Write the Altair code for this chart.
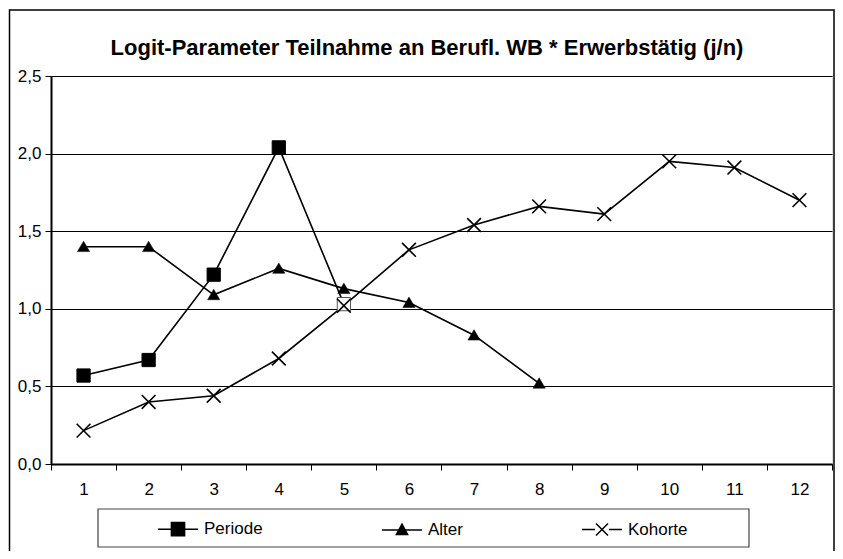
import altair as alt
import pandas as pd

categories = list(range(1, 13))
periode = [0.57, 0.67, 1.22, 2.04, 1.03]
alter = [1.40, 1.40, 1.09, 1.26, 1.13, 1.04, 0.83, 0.52]
kohorte = [0.215, 0.40, 0.44, 0.68, 1.02, 1.38, 1.54, 1.66, 1.61, 1.95, 1.91, 1.70]
series_names = ["Periode", "Alter", "Kohorte"]
y_ticks = [0.0, 0.5, 1.0, 1.5, 2.0, 2.5]
title_text = "Logit-Parameter Teilnahme an Berufl. WB * Erwerbstätig (j/n)"

rows = []
for name, vals in zip(series_names, [periode, alter, kohorte]):
    for i, v in enumerate(vals):
        rows.append({"x": categories[i], "y": v, "series": name})
df = pd.DataFrame(rows)

FONT = "Liberation Sans"
W, H = 781, 388

x_enc = alt.X("x:O", scale=alt.Scale(domain=categories, paddingInner=0, paddingOuter=0),
              axis=alt.Axis(title=None, labelAngle=0, tickBand="extent", tickSize=6,
                            labelPadding=11, labelFontSize=17, labelFont=FONT,
                            labelColor="black", domainColor="black", domainWidth=2,
                            tickColor="black", tickWidth=1, grid=False))
y_enc = alt.Y("y:Q", scale=alt.Scale(domain=[0, 2.5], nice=False, zero=True),
              axis=alt.Axis(title=None, values=y_ticks, tickSize=6, labelPadding=4,
                            labelFontSize=17, labelFont=FONT, labelColor="black",
                            labelExpr="replace(format(datum.value, '.1f'), '.', ',')",
                            domainColor="black", domainWidth=2, tickColor="black",
                            tickWidth=1, grid=True, gridColor="black", gridWidth=1,
                            gridOpacity=1))

base = alt.Chart(df)

lines = base.mark_line(color="black", strokeWidth=1.6).encode(
    x=x_enc, y=y_enc, detail="series:N")

pts_periode = base.transform_filter("datum.series == 'Periode'").mark_point(
    shape="square", size=175, strokeWidth=1, opacity=1).encode(
    x="x:O", y="y:Q",
    fill=alt.condition("datum.x == 5", alt.value("white"), alt.value("black")),
    stroke=alt.condition("datum.x == 5", alt.value("#555555"), alt.value("black")))

pts_alter = base.transform_filter("datum.series == 'Alter'").mark_point(
    shape="M-1,0.8L0,-0.9L1,0.8Z", size=150, fill="black", stroke="black",
    strokeWidth=0.5, filled=True, opacity=1).encode(x="x:O", y="y:Q")

pts_kohorte = base.transform_filter("datum.series == 'Kohorte'").mark_point(
    shape="M-1,-1L1,1M-1,1L1,-1", size=190, stroke="black", strokeWidth=1.6,
    opacity=1).encode(x="x:O", y="y:Q")

legend_paths = [
    "M-1,0H1M-0.33,-0.33H0.33V0.33H-0.33Z",
    "M-1,0H1M0,-0.3L0.28,0.22H-0.28Z",
    "M-1,0H-0.35M0.35,0H1M-0.3,-0.3L0.3,0.3M-0.3,0.3L0.3,-0.3",
]
legend_props = dict(title=None, orient="none", direction="horizontal",
                    legendX=106, legendY=432, padding=0, columnPadding=116,
                    labelOffset=5, labelFontSize=17, labelFont=FONT,
                    labelColor="black", symbolSize=1600,
                    symbolStrokeWidth=1.5, symbolOpacity=1)
legend_layer = base.transform_filter("false").mark_point(
    size=1600, strokeWidth=1.5, opacity=1).encode(
    x="x:O", y="y:Q",
    shape=alt.Shape("series:N", scale=alt.Scale(domain=series_names, range=legend_paths),
                    legend=alt.Legend(**legend_props)),
    fill=alt.Fill("series:N", scale=alt.Scale(domain=series_names,
                                               range=["black", "black", "transparent"]),
                  legend=alt.Legend(**legend_props)),
    stroke=alt.Stroke("series:N", scale=alt.Scale(domain=series_names,
                                                   range=["black", "black", "black"]),
                      legend=alt.Legend(**legend_props)),
)

frame_df = pd.DataFrame({"k": [0]})
outer_frame = alt.Chart(frame_df).mark_rect(fill=None, stroke="black", strokeWidth=1.5,
                                            clip=False).encode(
    x=alt.value(-41.5), x2=alt.value(783), y=alt.value(-66), y2=alt.value(490))
legend_frame = alt.Chart(frame_df).mark_rect(fill=None, stroke="#444444", strokeWidth=1.2,
                                             clip=False).encode(
    x=alt.value(47), x2=alt.value(698), y=alt.value(433), y2=alt.value(471))
title_mark = alt.Chart(frame_df).mark_text(
    text=title_text, font=FONT, fontSize=22, fontWeight="bold", color="black",
    align="center", baseline="alphabetic").encode(x=alt.value(376), y=alt.value(-21))

chart = alt.layer(outer_frame, legend_frame, title_mark, lines, pts_periode, pts_alter,
                  pts_kohorte, legend_layer).properties(
    width=W, height=H,
    padding={"left": 43, "top": 68, "right": 3, "bottom": 87},
    autosize=alt.AutoSizeParams(type="none"),
).configure_view(stroke="black", strokeWidth=2).configure(background="white")

chart.save("out.html", embed_options={"renderer": "svg", "actions": False})
